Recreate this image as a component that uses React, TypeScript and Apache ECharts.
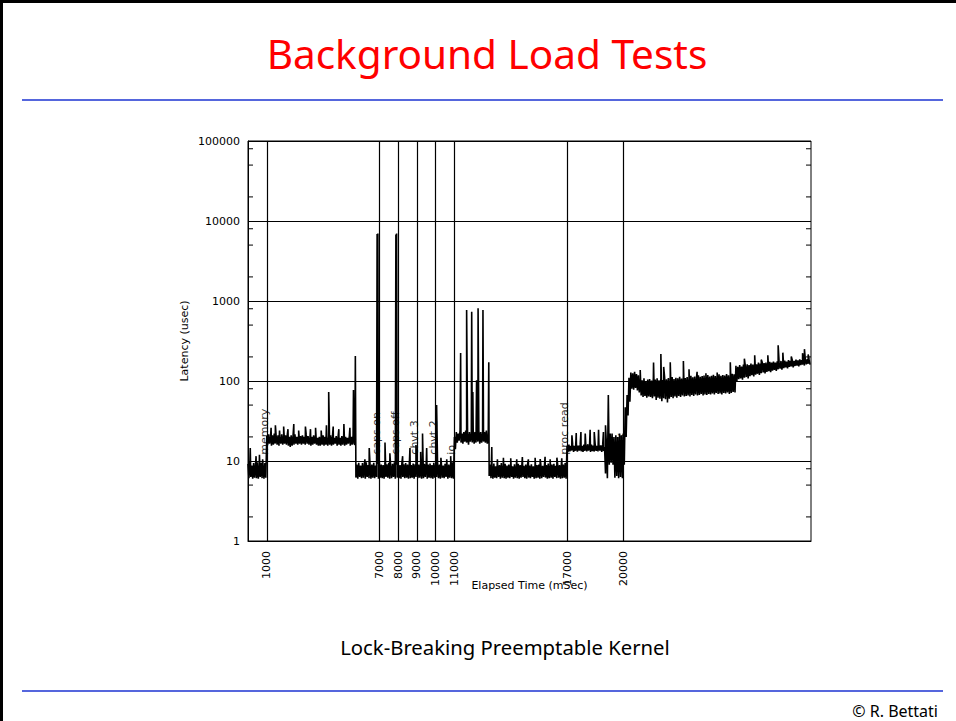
import React, { useEffect, useRef } from "react";
import * as echarts from "echarts";

const TITLE = "Background Load Tests";
const SUBTITLE = "Lock-Breaking Preemptable Kernel";
const CREDIT = "© R. Bettati";
const X_NAME = "Elapsed Time (mSec)";
const Y_NAME = "Latency (usec)";

const X_MIN = 0;
const X_MAX = 30000;
const Y_MIN = 1;
const Y_MAX = 100000;
const BIN_MS = 100;
const LABEL_BASE = 12;

const eventTimes = [1000, 7000, 8000, 9000, 10000, 11000, 17000, 20000];
const eventNames = ["memory", "caps on", "caps off", "chvt 3", "chvt 2", "io", "proc read", "fork"];
const minorTickValues = [2, 5, 8, 20, 50, 80, 200, 500, 800, 2000, 5000, 8000, 20000, 50000, 80000];

// 0 - 900 ms (idle)
const hiA = [9.2, 9.6, 8.8, 9.4, 9.0, 9.6, 8.9, 9.5, 9.1, 9.4];
const loA = [6.1, 6.3, 6.0, 6.2, 6.1, 6.0, 6.3, 6.1, 6.0, 6.2];
// 1000 - 5600 ms (memory)
const hiB = [20.5, 21.5, 20.0, 21.0, 22.0, 20.5, 21.0, 20.0, 21.5, 20.5,
  21.0, 22.0, 20.0, 21.0, 20.5, 21.5, 20.0, 21.0, 20.5, 21.0,
  20.0, 21.5, 20.5, 19.5, 20.0, 21.0, 20.5, 19.5, 20.0, 20.5,
  21.0, 20.0, 19.5, 20.5, 21.0, 20.0, 19.5, 20.5, 20.0, 19.5,
  20.5, 21.0, 20.0, 19.5, 20.5, 20.0, 21.0];
const loB = [16.0, 16.5, 15.5, 16.0, 16.5, 16.0, 15.5, 16.5, 16.0, 16.5,
  16.0, 15.5, 15.0, 15.5, 16.0, 16.5, 16.0, 16.5, 16.0, 16.5,
  16.0, 16.5, 16.0, 15.5, 16.0, 16.5, 16.0, 15.5, 15.5, 16.0,
  15.5, 16.0, 15.5, 16.0, 15.5, 16.0, 16.5, 15.5, 16.0, 15.5,
  16.0, 15.5, 16.0, 16.5, 15.5, 16.0, 16.5];
// 5700 - 10900 ms (caps / chvt)
const hiC = [16, 9.0, 9.5, 8.8, 9.4, 9.0, 9.6, 8.9, 9.3, 9.0,
  9.5, 8.8, 9.2, 9.6, 9.0, 8.9, 9.4, 9.1, 9.5, 8.8,
  9.2, 9.6, 9.0, 9.3, 8.9, 9.5, 9.1, 9.4, 9.0, 9.6,
  8.9, 9.3, 9.1, 9.5, 9.0, 9.4, 8.8, 9.2, 9.6, 9.0,
  9.3, 8.9, 9.5, 9.1, 9.4, 9.0, 9.6, 8.8, 9.2, 9.5,
  9.0, 9.3, 9.6];
const loC = [6.2, 6.0, 6.3, 6.1, 6.2, 6.0, 6.3, 6.1, 6.0, 6.2,
  6.1, 6.3, 6.0, 6.2, 6.1, 6.0, 6.3, 6.2, 6.0, 6.1,
  6.3, 6.0, 6.2, 6.1, 6.0, 6.3, 6.1, 6.2, 6.0, 6.1,
  6.2, 6.0, 6.3, 6.1, 6.2, 6.0, 6.1, 6.3, 6.0, 6.2,
  6.1, 6.0, 6.2, 6.3, 6.1, 6.0, 6.2, 6.1, 6.3, 6.0,
  6.2, 6.1, 6.0];
// 11000 - 12700 ms (io)
const hiD = [20, 23, 22, 24, 22, 23, 24, 22, 23, 22, 24, 23, 22, 24, 23, 22, 23, 24];
const loD = [14, 17, 18, 17, 16.5, 17.5, 17, 16, 17.5, 17, 16.5, 17, 17.5, 16.5, 17, 17.5, 17, 16.5];
// 12800 - 16900 ms (idle)
const hiE = [18, 9.0, 8.8, 9.3, 8.6, 9.1, 8.9, 9.4, 8.7, 9.2,
  8.8, 9.0, 9.3, 8.6, 9.1, 8.8, 9.2, 8.9, 9.4, 8.7,
  9.0, 9.2, 8.8, 9.1, 8.6, 9.3, 8.9, 9.0, 9.2, 8.7,
  9.1, 8.9, 9.3, 8.8, 9.0, 9.2, 8.7, 9.1, 8.9, 9.3,
  9.0, 9.4];
const loE = [6.5, 6.1, 6.0, 6.2, 6.1, 6.3, 6.0, 6.2, 6.1, 6.0,
  6.2, 6.1, 6.3, 6.0, 6.2, 6.1, 6.0, 6.2, 6.3, 6.1,
  6.0, 6.2, 6.1, 6.3, 6.0, 6.1, 6.2, 6.0, 6.1, 6.3,
  6.2, 6.0, 6.1, 6.2, 6.0, 6.3, 6.1, 6.2, 6.0, 6.1,
  6.2, 6.0];
// 17000 - 18900 ms (proc read)
const hiF = [15.5, 16, 15.5, 16, 15.5, 16.2, 15.6, 16, 15.4, 16, 15.8, 16.2, 15.5, 16, 15.6, 16.1, 15.5, 16, 15.7, 16];
const loF = [13, 13.2, 13.5, 13, 13.4, 13.1, 13.5, 13.2, 13, 13.4, 13.2, 13.5, 13, 13.3, 13.1, 13.4, 13.2, 13.5, 13, 13.3];
// 19000 - 19900 ms (transition)
const hiG = [15, 16, 67, 22, 22, 20, 21, 20, 22, 21];
const loG = [7, 6.1, 9, 9.5, 9, 6.2, 6.5, 6.1, 6.3, 6.1];
// 20000 - 20300 ms (fork ramp)
const hiH = [22, 47, 67, 110];
const loH = [9, 20, 37, 55];
// 20400 - 25900 ms (fork)
const hiI = [128, 125, 130, 122, 118, 105, 102, 108, 100, 104,
  106, 101, 110, 104, 108, 102, 107, 103, 111, 105,
  109, 104, 112, 106, 110, 108, 113, 107, 115, 109,
  112, 110, 116, 111, 114, 112, 118, 113, 115, 117,
  112, 119, 114, 116, 120, 115, 118, 121, 116, 119,
  117, 122, 118, 120, 123, 121];
const loI = [80, 78, 82, 76, 72, 66, 63, 65, 62, 64,
  63, 61, 64, 58, 62, 60, 56, 61, 59, 62,
  60, 63, 61, 64, 62, 65, 63, 66, 64, 65,
  66, 64, 67, 65, 68, 66, 67, 69, 66, 68,
  67, 69, 68, 70, 68, 71, 69, 70, 68, 71,
  70, 72, 69, 71, 73, 72];
// 26000 - 29900 ms
const hiJ = [155, 150, 158, 152, 160, 155, 162, 158, 165, 160,
  168, 162, 170, 165, 172, 168, 170, 166, 174, 170,
  175, 170, 176, 172, 178, 174, 180, 175, 182, 178,
  183, 179, 185, 181, 186, 182, 188, 184, 187, 185];
const loJ = [100, 105, 108, 104, 110, 112, 108, 115, 118, 114,
  120, 123, 119, 125, 128, 124, 130, 133, 129, 135,
  138, 134, 140, 143, 139, 145, 148, 144, 150, 152,
  148, 154, 156, 152, 158, 160, 156, 162, 164, 160];

// isolated spikes [ms, usec]
const spikes: [number, number][] = [
  [120, 14.5], [430, 11.5], [610, 12], [780, 10.5],
  [1230, 26], [1460, 28], [1680, 24], [1900, 27], [2130, 25], [2440, 29], [2700, 24],
  [3060, 27], [3330, 25], [3600, 26], [3900, 24], [4180, 28], [4300, 73], [4540, 27],
  [4840, 25], [5110, 29], [5430, 26], [5620, 77], [5720, 205],
  [6230, 10.5], [6460, 14.5], [6880, 6900], [6920, 7000], [7300, 17], [7560, 12.5],
  [7880, 6800], [7920, 7000], [8240, 11.5], [8630, 14.5], [8950, 15.8], [9200, 13],
  [9300, 22], [9520, 14.5], [10050, 50], [10280, 11], [10590, 10.5], [10800, 11.5],
  [11330, 224], [11650, 770], [11920, 735], [11980, 73], [12180, 102], [12260, 813],
  [12520, 770], [12830, 172],
  [12990, 15], [13290, 10.5], [13610, 11], [14000, 10.8], [14320, 10.5], [14620, 11.2],
  [14940, 10.5], [15300, 11], [15570, 10.6], [15830, 11.3], [16100, 10.5], [16460, 11], [16720, 10.8],
  [17260, 21], [17490, 22.4], [17740, 23], [17970, 22], [18230, 24.5], [18450, 23],
  [18680, 24.5], [18940, 23], [19050, 28],
  [20900, 137], [21610, 170], [22000, 217], [22150, 150], [22350, 54], [22500, 171],
  [23200, 178], [23500, 140], [23930, 130], [24400, 125], [25000, 128], [25700, 171],
  [26450, 190], [27000, 210], [27350, 185], [27700, 210], [28250, 280], [28500, 226],
  [28950, 202], [29550, 223], [29650, 250], [29850, 215],
];

const FONT = "DejaVu Sans";
const SLIDE_FONT = "Noto Sans";

function buildLatency(): [number, number][] {
  const hi = [...hiA, ...hiB, ...hiC, ...hiD, ...hiE, ...hiF, ...hiG, ...hiH, ...hiI, ...hiJ];
  const lo = [...loA, ...loB, ...loC, ...loD, ...loE, ...loF, ...loG, ...loH, ...loI, ...loJ];
  const pts: [number, number][] = [];
  hi.forEach((h, i) => {
    pts.push([i * BIN_MS, h]);
    pts.push([i * BIN_MS + BIN_MS / 2, lo[i]]);
  });
  spikes.forEach((s) => pts.push([s[0], s[1]]));
  pts.sort((a, b) => a[0] - b[0]);
  return pts;
}

export default function App() {
  const ref = useRef<HTMLDivElement>(null);
  useEffect(() => {
    if (!ref.current) return;
    const chart = echarts.init(ref.current, null, { renderer: "svg" });
    const option: any = {
      animation: false,
      backgroundColor: "#fff",
      grid: {
        left: 248, top: 141, width: 563, height: 400,
        show: true, borderColor: "#000", borderWidth: 1, backgroundColor: "transparent",
      },
      xAxis: {
        type: "value", min: X_MIN, max: X_MAX,
        name: X_NAME, nameLocation: "middle", nameGap: 39, nameMoveOverlap: false,
        nameTextStyle: { color: "#000", fontFamily: FONT, fontSize: 11 },
        axisLine: { show: true, lineStyle: { color: "#000", width: 1 } },
        axisTick: { show: false },
        splitLine: { show: false },
        axisLabel: {
          customValues: eventTimes, rotate: 90, margin: 10,
          color: "#000", fontFamily: FONT, fontSize: 11,
          formatter: (v: number) => String(Math.round(v)),
        },
      },
      yAxis: {
        type: "log", logBase: 10, min: Y_MIN, max: Y_MAX,
        name: Y_NAME, nameLocation: "middle", nameGap: 58, nameMoveOverlap: false,
        nameTextStyle: { color: "#000", fontFamily: FONT, fontSize: 11 },
        axisLine: { show: true, lineStyle: { color: "#000", width: 1 } },
        axisTick: { show: false },
        axisLabel: {
          color: "#000", fontFamily: FONT, fontSize: 11, margin: 8,
          formatter: (v: number) => String(Math.round(v)),
        },
        splitLine: { show: true, lineStyle: { color: "#000", width: 1 } },
      },
      series: [
        {
          type: "line",
          data: buildLatency(),
          showSymbol: false,
          symbol: "none",
          silent: true,
          lineStyle: { color: "#000", width: 1.6 },
          z: 3,
          markLine: {
            silent: true,
            symbol: ["none", "none"],
            label: { show: false },
            lineStyle: { color: "#000", width: 1.2, type: "solid" },
            data: eventTimes.map((t) => ({ xAxis: t })),
          },
        },
        {
          type: "custom",
          silent: true,
          z: 4,
          data: minorTickValues.map((v) => [X_MIN, v]),
          renderItem: (params: any, api: any) => {
            const v = api.value(1);
            const pl = api.coord([X_MIN, v]);
            const pr = api.coord([X_MAX, v]);
            return {
              type: "group",
              children: [
                { type: "line", shape: { x1: pl[0], y1: pl[1], x2: pl[0] + 5, y2: pl[1] }, style: { stroke: "#000", lineWidth: 1 } },
                { type: "line", shape: { x1: pr[0] - 5, y1: pr[1], x2: pr[0], y2: pr[1] }, style: { stroke: "#000", lineWidth: 1 } },
              ],
            };
          },
        },
        {
          type: "scatter",
          silent: true,
          z: 5,
          symbolSize: 1,
          itemStyle: { color: "rgba(0,0,0,0)" },
          data: eventTimes.map((t, i) => ({ value: [t, LABEL_BASE], name: eventNames[i] })),
          label: {
            show: true, formatter: "{b}", position: "inside", rotate: 90,
            align: "left", verticalAlign: "bottom", offset: [0, 3],
            color: "#000", fontFamily: FONT, fontSize: 11,
          },
        },
      ],
      graphic: [
        { type: "rect", shape: { x: 0, y: 0, width: 956, height: 3 }, style: { fill: "#000" } },
        { type: "rect", shape: { x: 0, y: 0, width: 3, height: 721 }, style: { fill: "#000" } },
        { type: "rect", shape: { x: 22, y: 99, width: 921, height: 2 }, style: { fill: "#5566dd" } },
        { type: "rect", shape: { x: 22, y: 690, width: 921, height: 2 }, style: { fill: "#5566dd" } },
        {
          type: "text", x: 487, y: 53,
          style: { text: TITLE, fill: "#ff0000", font: `40.5px "${SLIDE_FONT}"`, align: "center", verticalAlign: "middle" },
        },
        {
          type: "text", x: 505, y: 647,
          style: { text: SUBTITLE, fill: "#000", font: `20.3px "${SLIDE_FONT}"`, align: "center", verticalAlign: "middle" },
        },
        {
          type: "text", x: 938, y: 711,
          style: { text: CREDIT, fill: "#000", font: `16px "${SLIDE_FONT}"`, align: "right", verticalAlign: "middle" },
        },
      ],
    };
    chart.setOption(option);
    return () => chart.dispose();
  }, []);
  return (
    <div
      ref={ref}
      style={{ position: "absolute", left: 0, top: 0, width: 956, height: 721, background: "#fff" }}
    />
  );
}
